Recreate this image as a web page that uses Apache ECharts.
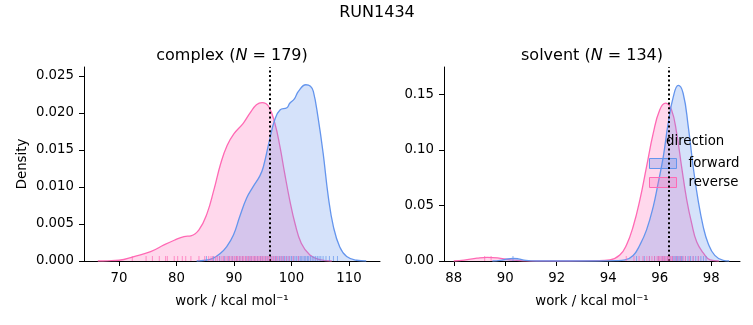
<!DOCTYPE html>
<html><head><meta charset="utf-8">
<script src="https://cdn.jsdelivr.net/npm/echarts@6/dist/echarts.min.js"></script>
<style>html,body{margin:0;padding:0;background:#fff}#c{width:753px;height:325px}</style>
</head><body><div id="c"></div>
<script>
// ---- data ----
const complexReverseX = [66.3, 68, 70, 72.6, 75.5, 77.9, 79.6, 81.3, 82.5, 83.9, 85.3, 86.5, 87.7, 88.8, 90.0, 91.6, 92.8, 93.9, 94.9, 96.0, 97.1, 98.0, 98.8, 99.7, 100.6, 101.7, 103.2, 104.9, 107];
const complexReverseY = [0, 0.00003, 0.0001, 0.0006, 0.00126, 0.0022, 0.0028, 0.0033, 0.0034, 0.0042, 0.0064, 0.0096, 0.0132, 0.0156, 0.0172, 0.0186, 0.0200, 0.0211, 0.0214, 0.0209, 0.0186, 0.0154, 0.0119, 0.0082, 0.0051, 0.0024, 0.0008, 0.0002, 0];
const complexForwardX = [83.5, 85, 86.4, 87.6, 88.7, 89.9, 91.0, 92.2, 93.3, 94.5, 95.1, 96.2, 97.1, 98.0, 99.2, 99.7, 100.5, 101.2, 102.5, 103.3, 103.8, 104.6, 105.5, 106.4, 107.3, 108.4, 109.6, 111.3, 113];
const complexForwardY = [0, 0.0001, 0.0004, 0.0010, 0.0019, 0.0035, 0.0060, 0.0085, 0.0100, 0.0115, 0.0127, 0.0164, 0.0191, 0.0204, 0.0207, 0.0213, 0.0219, 0.0229, 0.0238, 0.0236, 0.0229, 0.0195, 0.0146, 0.0087, 0.0046, 0.0019, 0.0006, 0.0001, 0];
const solventReverseX = [88.0, 88.4, 88.9, 89.3, 89.7, 90.2, 90.7, 91.5, 92.5, 93.5, 94.06, 94.45, 94.71, 94.97, 95.23, 95.49, 95.75, 96.0, 96.23, 96.46, 96.66, 96.85, 97.05, 97.24, 97.44, 97.7, 97.96, 98.3];
const solventReverseY = [0, 0.0008, 0.0025, 0.0033, 0.0028, 0.0010, 0.0002, 0, 0, 0.0003, 0.001, 0.0054, 0.0144, 0.031, 0.055, 0.085, 0.115, 0.136, 0.142, 0.136, 0.115, 0.085, 0.055, 0.034, 0.017, 0.007, 0.001, 0];
const solventForwardX = [89.5, 89.8, 90.1, 90.3, 90.5, 90.8, 91.2, 93.5, 94.3, 94.65, 94.97, 95.23, 95.49, 95.75, 95.94, 96.14, 96.33, 96.53, 96.72, 96.91, 97.11, 97.30, 97.49, 97.69, 97.88, 98.14, 98.47, 98.7];
const solventForwardY = [0, 0.0005, 0.0020, 0.0024, 0.0020, 0.0006, 0, 0, 0.0003, 0.001, 0.005, 0.0144, 0.028, 0.049, 0.070, 0.094, 0.124, 0.148, 0.158, 0.151, 0.121, 0.085, 0.055, 0.031, 0.016, 0.005, 0.0005, 0];

const complexReverseRug = [72.3, 74.7, 75.8, 77.0, 78.1, 78.4, 79.6, 80.2, 81.0, 81.6, 82.5, 83.9, 84.9, 85.6, 86.0, 86.3, 86.8, 87.1, 87.5, 87.9, 88.2, 88.6, 88.9, 89.2, 89.5, 89.8, 90.1, 90.4, 90.6, 90.9, 91.2, 91.5, 91.7, 92.0, 92.3, 92.5, 92.8, 93.0, 93.3, 93.5, 93.7, 94.0, 94.2, 94.5, 94.7, 94.9, 95.2, 95.4, 95.7, 95.9, 96.2, 96.5, 96.8, 97.1, 97.4, 97.8, 98.2, 98.6, 99.1, 99.6, 100.3, 101.2];
const complexForwardRug = [85.2, 86.4, 87.5, 88.3, 89.1, 89.7, 90.4, 91.0, 91.5, 92.1, 92.6, 93.0, 93.6, 94.1, 94.6, 95.0, 95.5, 95.9, 96.4, 96.8, 97.2, 97.5, 97.9, 98.2, 98.5, 98.8, 99.1, 99.4, 99.7, 100.0, 100.3, 100.6, 100.9, 101.2, 101.5, 101.7, 102.0, 102.3, 102.5, 102.8, 103.0, 103.3, 103.6, 103.9, 104.2, 104.5, 104.8, 105.1, 105.5, 106.0, 106.6, 107.3, 108.0];
const solventReverseRug = [89.2, 89.45, 94.7, 95.0, 95.2, 95.35, 95.5, 95.6, 95.7, 95.8, 95.9, 95.95, 96.0, 96.05, 96.1, 96.15, 96.2, 96.25, 96.3, 96.35, 96.4, 96.45, 96.5, 96.6, 96.7, 96.8, 96.9, 97.0, 97.15, 97.3, 97.5];
const solventForwardRug = [90.3, 95.1, 95.4, 95.6, 95.8, 95.95, 96.1, 96.2, 96.3, 96.4, 96.5, 96.55, 96.6, 96.65, 96.7, 96.75, 96.8, 96.85, 96.9, 97.0, 97.1, 97.2, 97.3, 97.4, 97.5, 97.6, 97.7, 97.8];

const complexEstimate = 96.3;
const solventEstimate = 96.35;

const complexXTicks = [70, 80, 90, 100, 110];
const complexYTicks = [0, 0.005, 0.01, 0.015, 0.02, 0.025];
const solventXTicks = [88, 90, 92, 94, 96, 98];
const solventYTicks = [0, 0.05, 0.1, 0.15];

const suptitle = 'RUN1434';
const panelTitles = ['complex ({i|N} = 179)', 'solvent ({i|N} = 134)'];
const directions = ['forward', 'reverse'];
// ---------------------------------------

const FONT = 'DejaVu Sans';
const BLUE = '#6495ED', PINK = '#FF69B4';
const BLUE_F = 'rgba(100,149,237,0.27)', PINK_F = 'rgba(255,105,180,0.26)';
const zip = (xs, ys) => xs.map((x, i) => [x, ys[i]]);

const chart = echarts.init(document.getElementById('c'), null, {renderer: 'canvas'});

function xAxis(gi, min, max, ticks) {
  return {
    type: 'value', gridIndex: gi, min, max,
    axisLine: {show: true, lineStyle: {color: '#000', width: 1}},
    axisTick: {show: true, length: 5, lineStyle: {color: '#000', width: 1}, customValues: ticks},
    axisLabel: {color: '#000', fontSize: 13.3, fontFamily: FONT, margin: 11, customValues: ticks,
      formatter: v => String(Math.round(v))},
    splitLine: {show: false},
    name: 'work / kcal mol\u207B\u00B9', nameLocation: 'middle', nameGap: 34,
    nameTextStyle: {color: '#000', fontSize: 13.3, fontFamily: FONT}
  };
}
function yAxis(gi, min, max, ticks, dec, name) {
  return {
    type: 'value', gridIndex: gi, min, max,
    axisLine: {show: true, lineStyle: {color: '#000', width: 1}},
    axisTick: {show: true, length: 5, lineStyle: {color: '#000', width: 1}, customValues: ticks},
    axisLabel: {color: '#000', fontSize: 13.3, fontFamily: FONT, margin: 10, customValues: ticks,
      formatter: v => v.toFixed(dec)},
    splitLine: {show: false},
    name: name || '', nameLocation: 'middle', nameGap: 55,
    nameTextStyle: {color: '#000', fontSize: 13.3, fontFamily: FONT}
  };
}
function kde(name, gi, xs, ys, color, fill, z) {
  return {
    type: 'line', name, xAxisIndex: gi, yAxisIndex: gi, data: zip(xs, ys),
    showSymbol: false, smooth: 0.45, z,
    lineStyle: {color, width: 1.3}, itemStyle: {color},
    areaStyle: {color: fill, opacity: 1}, animation: false, silent: true
  };
}
function rug(name, gi, xs, color, z, est) {
  const s = {
    type: 'scatter', name, xAxisIndex: gi, yAxisIndex: gi,
    data: xs.map(x => [x, 0]), symbol: 'rect', symbolSize: [1, 5], symbolOffset: [0, -2.5],
    itemStyle: {color, opacity: 0.7}, z, animation: false, silent: true
  };
  if (est !== undefined) {
    s.markLine = {
      silent: true, symbol: ['none', 'none'], animation: false,
      label: {show: false},
      lineStyle: {color: '#000', type: [2, 2.6], width: 2},
      data: [{xAxis: est}]
    };
  }
  return s;
}

const richTitle = {i: {fontStyle: 'italic', fontSize: 16, fontFamily: FONT, color: '#000'}};
const titleStyle = {fontSize: 16, fontWeight: 'normal', fontFamily: FONT, color: '#000'};

chart.setOption({
  animation: false,
  backgroundColor: '#fff',
  title: [
    {text: suptitle, left: 377, top: 5, textAlign: 'center', padding: 0, textStyle: titleStyle},
    {text: panelTitles[0], left: 232, top: 48, textAlign: 'center', padding: 0,
      textStyle: Object.assign({rich: richTitle}, titleStyle)},
    {text: panelTitles[1], left: 592, top: 48, textAlign: 'center', padding: 0,
      textStyle: Object.assign({rich: richTitle}, titleStyle)},
    {text: 'direction', left: 666, top: 135, padding: 0,
      textStyle: {fontSize: 13.3, fontWeight: 'normal', fontFamily: FONT, color: '#000'}}
  ],
  legend: {
    orient: 'vertical', left: 649, top: 157, padding: 0, itemWidth: 27, itemHeight: 10, itemGap: 6,
    icon: 'rect',
    textStyle: {fontSize: 13.3, fontFamily: FONT, color: '#000', padding: [0, 0, 0, 7]},
    data: [
      {name: directions[0], itemStyle: {color: BLUE_F, borderColor: BLUE, borderWidth: 1}},
      {name: directions[1], itemStyle: {color: PINK_F, borderColor: PINK, borderWidth: 1}}
    ],
    selectedMode: false
  },
  grid: [
    {left: 84, top: 67, width: 296, height: 194, containLabel: false},
    {left: 444, top: 67, width: 296, height: 194, containLabel: false}
  ],
  xAxis: [xAxis(0, 63.9, 115.4, complexXTicks), xAxis(1, 87.62, 99.12, solventXTicks)],
  yAxis: [yAxis(0, 0, 0.0262, complexYTicks, 3, 'Density'), yAxis(1, 0, 0.1746, solventYTicks, 2)],
  series: [
    kde(directions[1], 0, complexReverseX, complexReverseY, PINK, PINK_F, 2),
    kde(directions[0], 0, complexForwardX, complexForwardY, BLUE, BLUE_F, 3),
    kde(directions[1], 1, solventReverseX, solventReverseY, PINK, PINK_F, 2),
    kde(directions[0], 1, solventForwardX, solventForwardY, BLUE, BLUE_F, 3),
    rug(directions[0], 0, complexForwardRug, BLUE, 4),
    rug(directions[1], 0, complexReverseRug, PINK, 5, complexEstimate),
    rug(directions[0], 1, solventForwardRug, BLUE, 4),
    rug(directions[1], 1, solventReverseRug, PINK, 5, solventEstimate)
  ]
});
</script></body></html>
